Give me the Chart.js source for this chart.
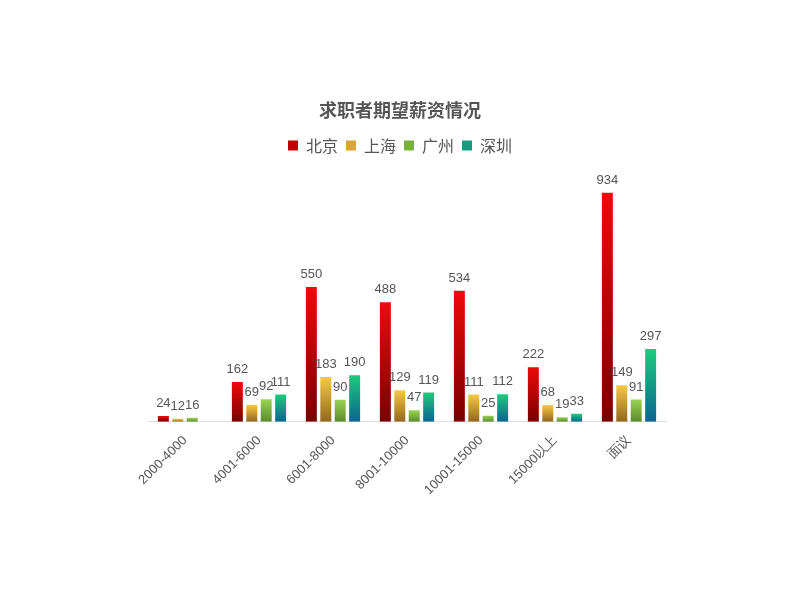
<!DOCTYPE html>
<html><head><meta charset="utf-8">
<script src="https://cdn.jsdelivr.net/npm/chart.js@4.4.1/dist/chart.umd.min.js"></script>
<style>html,body{margin:0;padding:0;background:#fff;}canvas{display:block;}</style>
</head><body>
<canvas id="c" width="800" height="600"></canvas>
<script>
const categories = ['2000-4000','4001-6000','6001-8000','8001-10000','10001-15000','15000以上','面议'];
const beijing = [24,162,550,488,534,222,934];
const shanghai = [12,69,183,129,111,68,149];
const guangzhou = [16,92,90,47,25,19,91];
const shenzhen = [null,111,190,119,112,33,297];
const seriesNames = ['北京','上海','广州','深圳'];
const seriesTop = ['#ee0a0a','#f6c945','#9ad353','#1ccb7c'];
const seriesBottom = ['#780000','#93661e','#5a8b2d','#0b6490'];
const seriesMid = ['#c00000','#d9a43a','#7ab040','#179a80'];

function grad(i){
  return function(ctx){
    if(ctx.type!=='data') return seriesMid[i];
    const chart=ctx.chart; const ys=chart.scales.y;
    if(!ys || !chart.chartArea) return seriesMid[i];
    const v=ctx.raw; if(v==null) return seriesMid[i];
    const top=ys.getPixelForValue(v), base=ys.getPixelForValue(0);
    if(!isFinite(top)||!isFinite(base)||Math.abs(base-top)<1) return seriesTop[i];
    const g=chart.ctx.createLinearGradient(0,top,0,base);
    g.addColorStop(0,seriesTop[i]); g.addColorStop(1,seriesBottom[i]);
    return g;
  };
}
const dataArrays=[beijing,shanghai,guangzhou,shenzhen];
const labelPlugin={
  id:'vals',
  afterDatasetsDraw(chart){
    const c=chart.ctx; c.save();
    c.font='13px "Liberation Sans", Arial, sans-serif';
    c.fillStyle='#555'; c.textAlign='center'; c.textBaseline='bottom';
    chart.data.datasets.forEach((ds,di)=>{
      const meta=chart.getDatasetMeta(di);
      meta.data.forEach((el,i)=>{
        const v=ds.data[i]; if(v==null) return;
        c.fillText(String(v), el.x, el.y-6);
      });
    });
    c.restore();
  }
};
const legendGap={
  id:'legendGap',
  beforeInit(chart){
    const fit=chart.legend.fit;
    chart.legend.fit=function(){fit.bind(chart.legend)();this.height+=13;};
  },
  afterLayout(chart){
    [chart.legend, chart.titleBlock].forEach(b=>{ if(b){ b.left-=7; b.right-=7; } });
  }
};
new Chart(document.getElementById('c'),{
  type:'bar',
  data:{labels:categories,datasets:dataArrays.map((d,i)=>({
    label:seriesNames[i],data:d,backgroundColor:grad(i),borderWidth:0,
    categoryPercentage:0.78,barPercentage:0.76
  }))},
  options:{
    responsive:false,animation:false,
    layout:{padding:{top:99,left:148,right:134,bottom:99}},
    plugins:{
      title:{display:true,text:'求职者期望薪资情况',color:'#555',
        font:{family:'"Noto Sans CJK SC", sans-serif',size:18,weight:'bold'},padding:{top:0,bottom:9}},
      legend:{display:true,labels:{color:'#555',boxWidth:10,boxHeight:10,padding:8,
        font:{family:'"Noto Sans CJK SC", sans-serif',size:16},
        generateLabels(chart){return seriesNames.map((n,i)=>({text:n,fillStyle:seriesMid[i],strokeStyle:seriesMid[i],lineWidth:0,datasetIndex:i,fontColor:'#555'}));}
      }},
      tooltip:{enabled:false}
    },
    scales:{
      x:{grid:{display:false},border:{color:'#ddd'},
        ticks:{color:'#555',minRotation:45,maxRotation:45,font:{family:'"Liberation Sans", Arial, sans-serif',size:13}}},
      y:{display:false,min:0,max:1000}
    }
  },
  plugins:[labelPlugin,legendGap]
});
</script>
</body></html>
